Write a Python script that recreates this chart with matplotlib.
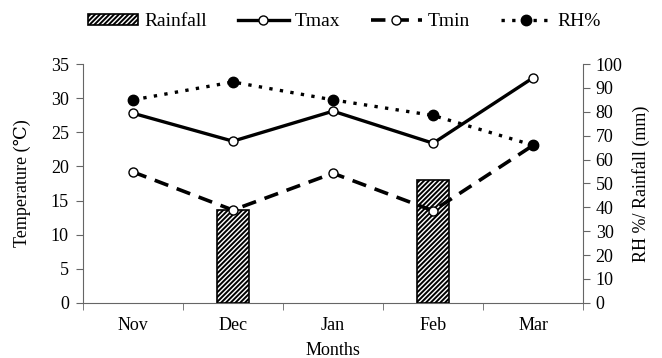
import matplotlib
matplotlib.use("Agg")
import matplotlib.pyplot as plt
import numpy as np

plt.rcParams['font.family'] = ['Liberation Serif', 'DejaVu Serif']
plt.rcParams['hatch.linewidth'] = 1.4

months = ["Nov", "Dec", "Jan", "Feb", "Mar"]
tmax = [27.8, 23.7, 28.1, 23.4, 33.0]
tmin = [19.2, 13.6, 19.0, 13.5, 23.1]
rh = [85, 92.5, 85, 78.5, 66]
rainfall = [0, 39, 0, 51.5, 0]

fig = plt.figure(figsize=(6.62, 3.58), dpi=100)
ax1 = fig.add_axes([0.125, 0.154, 0.756, 0.667])
ax2 = ax1.twinx()

x = np.arange(len(months))
rain = np.array(rainfall)
mask = rain > 0
bars = ax2.bar(x[mask], rain[mask], width=0.32, color='white', edgecolor='black',
               hatch='///////', linewidth=1.2, label='Rainfall', zorder=1)
l_tmax, = ax2.plot(x, tmax, transform=ax1.transData, color='black', linewidth=2.4,
                   marker='o', markersize=6.5, markerfacecolor='white', markeredgecolor='black',
                   markeredgewidth=1, label='Tmax', zorder=2)
l_tmin, = ax2.plot(x, tmin, transform=ax1.transData, color='black', linewidth=2.6,
                   linestyle=(0, (4, 2.5)), marker='o', markersize=6.5, markerfacecolor='white',
                   markeredgecolor='black', markeredgewidth=1, label='Tmin', zorder=2)
l_rh, = ax2.plot(x, rh, color='black', linestyle=(0, (1, 2.2)), linewidth=2.4,
                 marker='o', markersize=7.5, markerfacecolor='black', label='RH%', zorder=3)

ax1.set_xlim(-0.5, 4.5)
ax2.set_xlim(-0.5, 4.5)
ax1.set_ylim(0, 35)
ax2.set_ylim(0, 100)
ax1.set_yticks(np.arange(0, 36, 5))
ax2.set_yticks(np.arange(0, 101, 10))
ax1.set_xticks(x)
ax1.set_xticklabels(months)
ax1.set_xticks(np.arange(-0.5, 5, 1), minor=True)
ax1.tick_params(axis='x', which='major', length=0, pad=10, labelsize=13)
ax1.tick_params(axis='x', which='minor', length=5, direction='out', color='#666666')
ax1.tick_params(axis='y', length=5, direction='out', color='#666666', labelsize=13, pad=5)
ax2.tick_params(axis='y', length=5, direction='out', color='#666666', labelsize=13, pad=4)

for ax in (ax1, ax2):
    ax.spines['top'].set_visible(False)
    for s in ('left', 'right', 'bottom'):
        ax.spines[s].set_color('#666666')
ax1.spines['right'].set_visible(False)
ax2.spines['left'].set_visible(False)
ax2.spines['bottom'].set_visible(False)

ax1.set_ylabel('Temperature (\u2103)', fontsize=13, labelpad=14)
ax2.set_ylabel('RH %/ Rainfall (mm)', fontsize=13, labelpad=7)
ax1.set_xlabel('Months', fontsize=13, labelpad=6)

fig.legend([bars, l_tmax, l_tmin, l_rh], ['Rainfall', 'Tmax', 'Tmin', 'RH%'],
           loc='center', bbox_to_anchor=(0.52, 0.94), ncol=4, frameon=False,
           fontsize=14, handlelength=2.6, handleheight=0.5, columnspacing=1.6, handletextpad=0.3)

fig.savefig('out.png', dpi=100)
